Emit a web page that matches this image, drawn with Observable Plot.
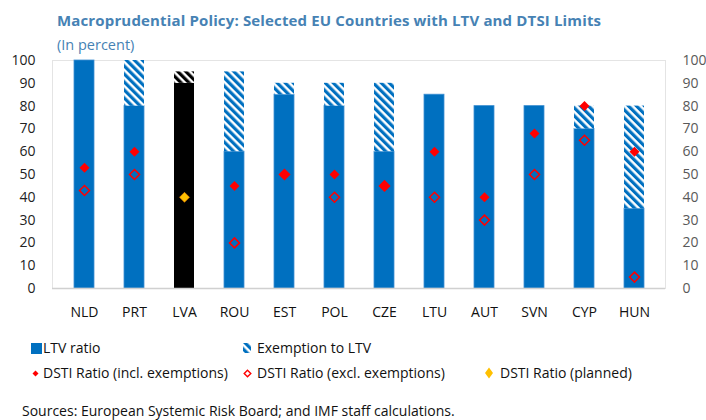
<!DOCTYPE html>
<html><head><meta charset="utf-8">
<script src="https://cdn.jsdelivr.net/npm/d3@7"></script>
<script src="https://cdn.jsdelivr.net/npm/@observablehq/plot@0.6"></script>
<style>
body{margin:0;background:#fff;}
#wrap{position:relative;width:706px;height:420px;font-family:"Open Sans",sans-serif;overflow:hidden;background:#fff;}
.t{position:absolute;white-space:nowrap;line-height:1;}
.title{left:57px;top:13px;font-size:15px;font-weight:bold;color:#4682b4;letter-spacing:0.15px;}
.sub{left:57px;top:37.5px;font-size:14.5px;color:#4682b4;}
.leg{font-size:14px;color:#111;}
.ico{position:absolute;}
#chart{position:absolute;left:0;top:48px;}
</style></head><body>
<svg width="0" height="0" style="position:absolute">
<defs>
<pattern id="stripeBlue" patternUnits="userSpaceOnUse" width="5.66" height="5.66" patternTransform="rotate(-45)">
<rect width="5.66" height="5.66" fill="#ffffff"/><rect width="3.2" height="5.66" fill="#0070c0"/></pattern>
<pattern id="stripeBlack" patternUnits="userSpaceOnUse" width="5.66" height="5.66" patternTransform="rotate(-45)">
<rect width="5.66" height="5.66" fill="#ffffff"/><rect width="3.2" height="5.66" fill="#000000"/></pattern>
</defs></svg>
<div id="wrap">
<div class="t title">Macroprudential Policy: Selected EU Countries with LTV and DTSI Limits</div>
<div class="t sub">(In percent)</div>
<div id="chart"></div>
<svg class="ico" style="left:31px;top:343px" width="11" height="11"><rect width="11" height="11" fill="#0070c0"/></svg>
<div class="t leg" style="left:43px;top:340.6px">LTV ratio</div>
<svg class="ico" style="left:243px;top:343px" width="8" height="10"><rect width="8" height="10" fill="url(#stripeBlue)"/></svg>
<div class="t leg" style="left:257px;top:340.6px">Exemption to LTV</div>
<svg class="ico" style="left:32px;top:370px" width="7" height="7"><path d="M3.5,0.5L6.5,3.5L3.5,6.5L0.5,3.5Z" fill="#ff0000"/></svg>
<div class="t leg" style="left:43px;top:365.6px">DSTI Ratio (incl. exemptions)</div>
<svg class="ico" style="left:243px;top:369px" width="9" height="9"><path d="M4.5,1.2L7.8,4.5L4.5,7.8L1.2,4.5Z" fill="none" stroke="#ff0000" stroke-width="1.4"/></svg>
<div class="t leg" style="left:257px;top:365.6px">DSTI Ratio (excl. exemptions)</div>
<svg class="ico" style="left:484px;top:367px" width="10" height="12"><path d="M5,0.5L9,6L5,11.5L1,6Z" fill="#ffc000"/></svg>
<div class="t leg" style="left:500px;top:365.6px">DSTI Ratio (planned)</div>
<div class="t leg" style="left:22px;top:403.6px">Sources: European Systemic Risk Board; and IMF staff calculations.</div>
</div>
<script>
const countries = ["NLD","PRT","LVA","ROU","EST","POL","CZE","LTU","AUT","SVN","CYP","HUN"];
const ltvRatio = [100,80,90,60,85,80,60,85,80,80,70,35];
const ltvWithExemption = [null,100,95,95,90,90,90,null,null,null,80,80];
const dstiIncl = [53,60,null,45,50,50,45,60,40,68,80,60];
const dstiExcl = [43,50,null,20,50,40,45,40,30,50,65,5];
const dstiPlanned = [null,null,40,null,null,null,null,null,null,null,null,null];
const yTicks = [0,10,20,30,40,50,60,70,80,90,100];

const rows = countries.map((c,i)=>({country:c, ltv:ltvRatio[i], cap:ltvWithExemption[i],
  incl:dstiIncl[i], excl:dstiExcl[i], planned:dstiPlanned[i]}));
const isLVA = d => d.country === "LVA";

const chart = Plot.plot({
  width:706, height:272,
  marginTop:12, marginBottom:32, marginLeft:52, marginRight:41,
  style:{fontFamily:'"Open Sans",sans-serif', fontSize:"14px", background:"transparent"},
  x:{domain:countries, paddingInner:0.608, paddingOuter:0.314, axis:null},
  y:{domain:[0,100], axis:null},
  marks:[
    Plot.frame({stroke:"#e4e4e4"}),
    Plot.barY(rows,{filter:d=>!isLVA(d), x:"country", y1:0, y2:"ltv", fill:"#0070c0", stroke:"#3f8fd2", strokeWidth:0.8}),
    Plot.barY(rows,{filter:isLVA, x:"country", y1:0, y2:"ltv", fill:"#000000"}),
    Plot.barY(rows,{filter:d=>d.cap!=null && !isLVA(d), x:"country", y1:"ltv", y2:"cap", fill:"url(#stripeBlue)"}),
    Plot.barY(rows,{filter:d=>d.cap!=null && isLVA(d), x:"country", y1:"ltv", y2:"cap", fill:"url(#stripeBlack)"}),
    Plot.ruleY([0],{stroke:"#d0d0d0", strokeWidth:1.5}),
    Plot.dot(rows,{filter:d=>d.excl!=null, x:"country", y:"excl", symbol:"diamond2", r:4.5, fill:"none", stroke:"#ff0000", strokeWidth:1.5}),
    Plot.dot(rows,{filter:d=>d.incl!=null, x:"country", y:"incl", symbol:"diamond2", r:4.5, fill:"#ff0000", stroke:"none"}),
    Plot.dot(rows,{filter:d=>d.planned!=null, x:"country", y:"planned", symbol:"diamond2", r:4.5, fill:"#ffc000", stroke:"#f08000", strokeWidth:0.6}),
    Plot.axisX({tickSize:0, tickPadding:19, fontSize:14, fill:"#111", label:null}),
    Plot.axisY(yTicks,{anchor:"left", tickSize:0, tickPadding:17, fontSize:14, fill:"#222", label:null}),
    Plot.axisY(yTicks,{anchor:"right", tickSize:0, tickPadding:17, fontSize:14, fill:"#595959", label:null})
  ]
});
document.getElementById("chart").appendChild(chart);
</script>
</body></html>
